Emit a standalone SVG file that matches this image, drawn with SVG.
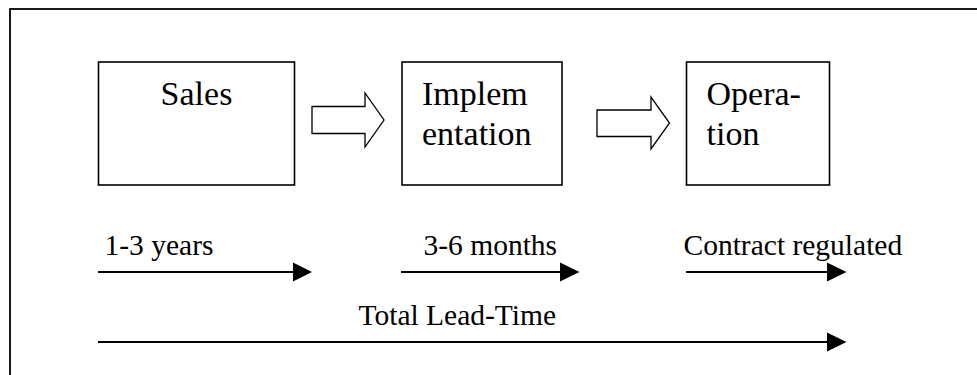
<svg xmlns="http://www.w3.org/2000/svg" width="977" height="375" viewBox="0 0 977 375">
  <defs>
    <style>
      .box { fill: #ffffff; stroke: #000000; stroke-width: 1.6; }
      .flow { fill: #ffffff; stroke: #000000; stroke-width: 1.3; stroke-linejoin: miter; }
      .span { stroke: #000000; stroke-width: 2; fill: none; }
      .head { fill: #000000; stroke: none; }
      text { font-family: 'Liberation Serif', 'Times New Roman', serif; fill: #000000; }
      .label { font-size: 34px; }
      .time { font-size: 29.5px; }
    </style>
  </defs>

  <rect width="977" height="375" fill="#ffffff"/>
  <!-- frame, open at the right and bottom edges -->
  <rect x="10" y="9" width="990" height="400" fill="none" stroke="#000000" stroke-width="1.8"/>

  <!-- phase boxes -->
  <g id="sales">
    <rect class="box" x="98.5" y="62" width="196" height="123"/>
    <text class="label" x="196.5" y="105" text-anchor="middle">Sales</text>
  </g>
  <g id="implementation">
    <rect class="box" x="402" y="62" width="160" height="123"/>
    <text class="label" x="422" y="105">Implem</text>
    <text class="label" x="422" y="145">entation</text>
  </g>
  <g id="operation">
    <rect class="box" x="686.5" y="62" width="143" height="123"/>
    <text class="label" x="706.5" y="104.5">Opera-</text>
    <text class="label" x="706.5" y="144.5">tion</text>
  </g>

  <!-- connectors: hollow block arrows between phases, timeline arrows below -->
  <g id="connectors">
    <polygon class="flow" points="312,106.5 365,106.5 365,93 384,120 365,147 365,133.5 312,133.5"/>
    <polygon class="flow" points="597,110 651,110 651,97 669.5,123 651,149 651,136.5 597,136.5"/>

    <line class="span" x1="98" y1="272" x2="294" y2="272"/>
    <polygon class="head" points="293,262.5 312,272 293,281.5"/>
    <line class="span" x1="401" y1="272" x2="561" y2="272"/>
    <polygon class="head" points="560,262.5 579.5,272 560,281.5"/>
    <line class="span" x1="686" y1="272" x2="828" y2="272"/>
    <polygon class="head" points="827,262.5 846.5,272 827,281.5"/>
    <line class="span" x1="98" y1="342" x2="828" y2="342"/>
    <polygon class="head" points="827,332.5 846.5,342 827,351.5"/>
  </g>

  <!-- durations -->
  <g id="durations">
    <text class="time" x="104.5" y="255">1-3 years</text>
    <text class="time" x="423.5" y="255">3-6 months</text>
    <text class="time" x="683.5" y="255">Contract regulated</text>
    <text class="time" x="358.5" y="324.5">Total Lead-Time</text>
  </g>
</svg>
